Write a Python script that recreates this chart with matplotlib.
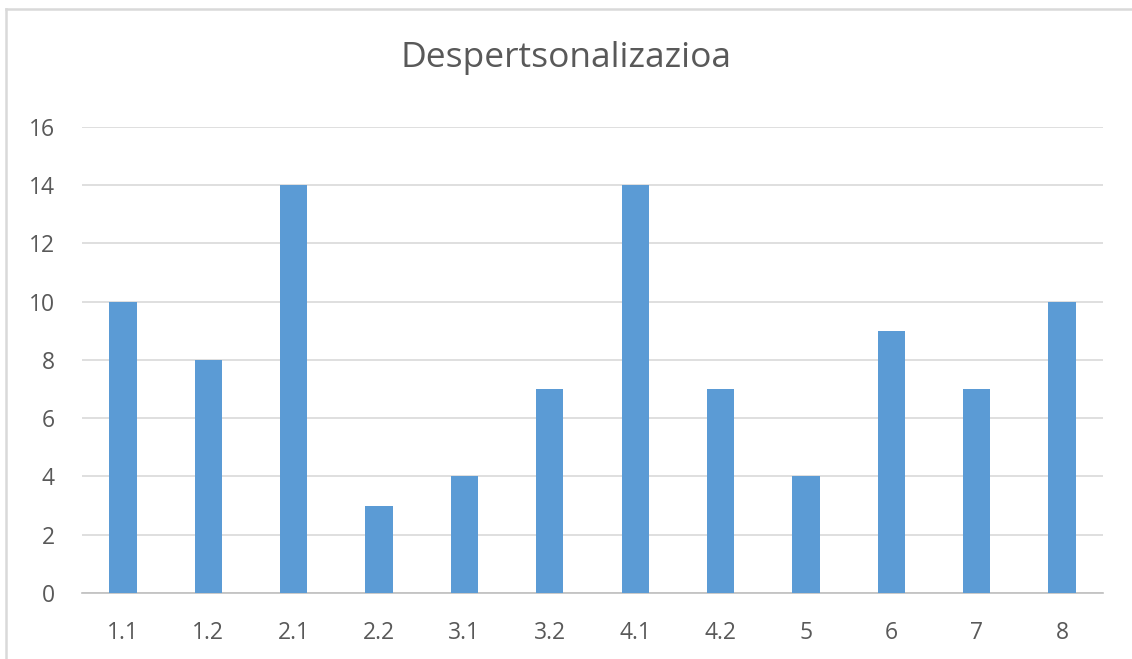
import matplotlib.pyplot as plt
from matplotlib.lines import Line2D

# Datos del gráfico
categories = ['1.1', '1.2', '2.1', '2.2', '3.1', '3.2', '4.1', '4.2', '5', '6', '7', '8']
values = [10, 8, 14, 3, 4, 7, 14, 7, 4, 9, 7, 10]

plt.rcParams['font.family'] = ['Open Sans', 'DejaVu Sans']

fig = plt.figure(figsize=(11.32, 6.59), dpi=100)
ax = fig.add_axes([0.0724, 0.1002, 0.902, 0.7071])

x = range(len(categories))
ax.bar(x, values, width=0.32, color='#5B9BD5', zorder=3)

ax.set_xlim(-0.48, len(categories) - 0.52)
ax.set_ylim(0, 16)
ax.set_yticks(range(0, 17, 2))
ax.set_xticks(list(x))
ax.set_xticklabels(categories)

# Rejilla y ejes
ax.grid(axis='y', color='#D9D9D9', linewidth=1.2, zorder=0)
for side in ['top', 'right', 'left']:
    ax.spines[side].set_visible(False)
ax.spines['bottom'].set_color('#BFBFBF')
ax.spines['bottom'].set_linewidth(1.2)
ax.tick_params(axis='both', length=0, labelsize=16.5, colors='#595959')
ax.tick_params(axis='y', pad=19.5)
ax.tick_params(axis='x', pad=20)

fig.text(0.5, 0.899, 'Despertsonalizazioa', ha='center', va='baseline',
         fontsize=25.5, color='#595959')

# Marco exterior (solo arriba e izquierda)
fig.lines.append(Line2D([0.0049, 1.0], [0.9856, 0.9856], transform=fig.transFigure,
                        color='#D9D9D9', linewidth=1.8))
fig.lines.append(Line2D([0.0049, 0.0049], [0.0, 0.9856], transform=fig.transFigure,
                        color='#D9D9D9', linewidth=1.8))

fig.savefig('out.png', dpi=100)
